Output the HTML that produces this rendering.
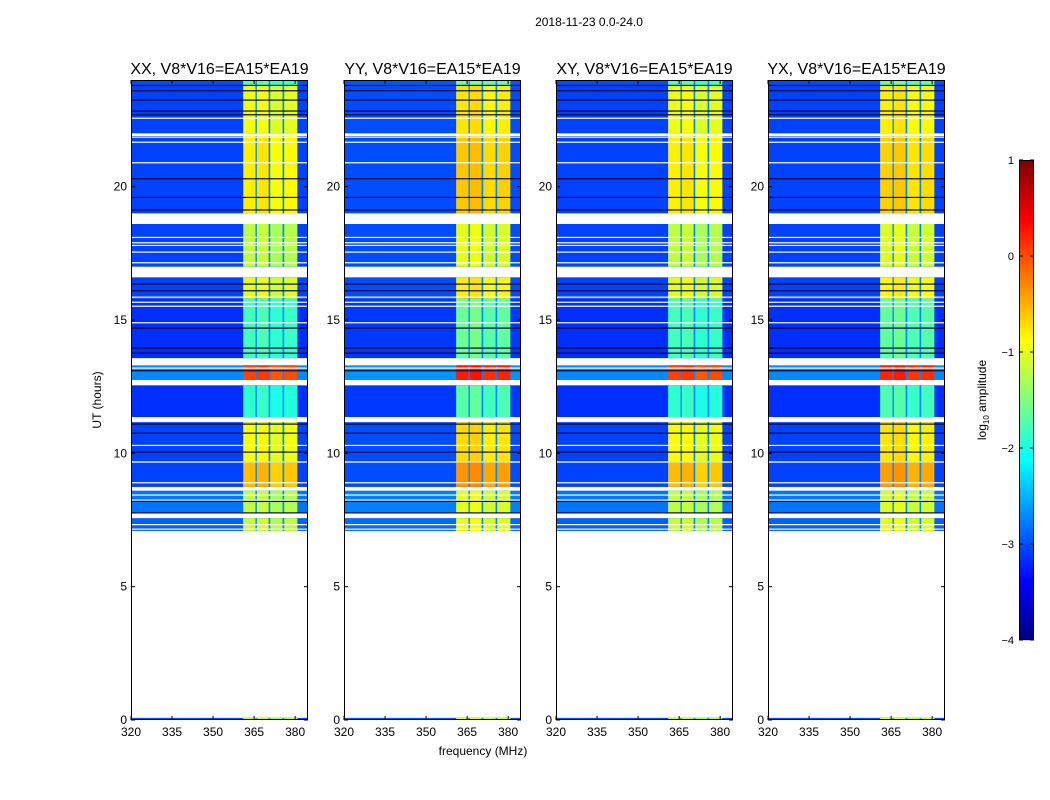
<!DOCTYPE html>
<html><head><meta charset="utf-8"><style>
body{margin:0;background:#fff;}
svg{display:block;font-family:"Liberation Sans",sans-serif;}
</style></head><body>
<svg id="fig" width="1050" height="800">
<text x="589" y="26" font-size="12" text-anchor="middle">2018-11-23 0.0-24.0</text>
<text x="483" y="755" font-size="12" text-anchor="middle">frequency (MHz)</text>
<text transform="translate(101,400) rotate(-90)" font-size="12" text-anchor="middle">UT (hours)</text>
<g id="panels"></g>
<g id="cbar"></g>
<text transform="translate(986,400) rotate(-90)" font-size="12" text-anchor="middle">log<tspan font-size="8" dy="3">10</tspan><tspan dy="-3"> amplitude</tspan></text>
</svg>
<script>
// ---- data ----
const panelTitles = ["XX, V8*V16=EA15*EA19","YY, V8*V16=EA15*EA19","XY, V8*V16=EA15*EA19","YX, V8*V16=EA15*EA19"];
const xTicks = [320,335,350,365,380];
const yTicks = [0,5,10,15,20];
// time segments with data: start hour, end hour
const segStart = [23.8,22.0,19.0,17.0,15.8,13.57,12.75,11.36,9.7,8.74,7.76,7.09,0];
const segEnd   = [24.0,23.8,21.9,18.6,16.6,15.8,13.3,12.55,11.17,9.65,8.6,7.57,0.08];
// band log amplitude per segment
const segBand  = [-1.8,-1.0,-0.85,-1.25,-1.05,-1.85,0.0,-1.95,-0.95,-0.6,-1.25,-1.2,-1.3];
// background log amplitude per segment
const segBg    = [-3.0,-3.05,-3.05,-3.05,-3.05,-3.15,-2.7,-3.15,-3.05,-3.05,-2.8,-2.9,-3.0];
// band sub-columns (MHz)
const colStart = [361,366,370.9,376];
const colEnd   = [365.5,370.3,375.4,380.8];
const colOffset= [0.05,0.1,-0.05,0.0];
const panelBandOffset = [0,0.2,0.0,0.15];
const panelBgOffset = [0,0.05,0,0];
// thin horizontal flag lines (hours)
const whiteLines = [22.57,21.86,21.67,20.9,18.1,17.9,17.8,17.55,17.15,15.86,15.67,15.52,14.9,13.2,10.3,8.9,8.44,8.25,7.33,7.16];
const darkLines = [23.8,23.6,23.25,22.84,22.7,20.3,19.6,19.13,16.35,16.1,14.7,13.95,13.76,13.1,11.1,10.76,10.05,8.2,7.77];
const cbTicks = [1,0,-1,-2,-3,-4];

// ---- layout ----
const panelX = [131,344,556,768];
const pw = 177, yTop = 80, yBot = 720;
const fMin = 320, fMax = 384.7, tMax = 24;
const NS = "http://www.w3.org/2000/svg";
function jet(v){ // v in [-4,1]
  let t = Math.max(0,Math.min(1,(v+4)/5));
  const c = x=>Math.round(255*Math.max(0,Math.min(1,x)));
  return `rgb(${c(1.5-Math.abs(4*t-3))},${c(1.5-Math.abs(4*t-2))},${c(1.5-Math.abs(4*t-1))})`;
}
function mk(tag, attrs, parent){const e=document.createElementNS(NS,tag);for(const k in attrs)e.setAttribute(k,attrs[k]);parent.appendChild(e);return e;}
const panels = document.getElementById('panels');
panelX.forEach((x0,p)=>{
  const g = mk('g',{},panels);
  
  
  const xs = f => x0 + (f-fMin)/(fMax-fMin)*pw;
  const ys = h => yBot - h/tMax*(yBot-yTop);
  segStart.forEach((s,i)=>{
    const y1 = ys(segEnd[i]), y2 = ys(s);
    const r = mk('rect',{x:x0,y:y1,width:pw,height:Math.max(1,y2-y1),fill:jet(segBg[i]+panelBgOffset[p])},g);
    
    
    const bb = mk('rect',{x:xs(colStart[0]),y:y1,width:xs(colEnd[3])-xs(colStart[0]),height:Math.max(1,y2-y1),fill:jet(-2.7)},g);
    
    
    colStart.forEach((cs,j)=>{
      const c = mk('rect',{x:xs(cs),y:y1,width:xs(colEnd[j])-xs(cs),height:Math.max(1,y2-y1),fill:jet(segBand[i]+colOffset[j]+panelBandOffset[p])},g);
      
      
    });
  });
  whiteLines.forEach(h=>{
    const l = mk('rect',{x:x0,y:ys(h)-0.5,width:pw,height:1.2,fill:'#fff'},g);
    
    
  });
  darkLines.forEach(h=>{
    const l = mk('rect',{x:x0,y:ys(h)-0.5,width:pw,height:1.2,fill:'#0a0a30'},g);
    
    
  });
  const fr = mk('rect',{x:x0+0.5,y:yTop+0.5,width:pw-1,height:yBot-yTop-1,fill:'none',stroke:'#000','stroke-width':1},g);
  
  
  const tt = mk('text',{x:x0+pw/2,y:74,'font-size':16,'text-anchor':'middle'},g);
  tt.textContent = panelTitles[p];
  
  
  xTicks.forEach(f=>{
    const t = mk('text',{x:xs(f),y:736,'font-size':12,'text-anchor':'middle'},g);
    t.textContent = f;
    
    
    mk('line',{x1:xs(f),x2:xs(f),y1:yBot,y2:yBot-4,stroke:'#000'},g);
    mk('line',{x1:xs(f),x2:xs(f),y1:yTop,y2:yTop+4,stroke:'#000'},g);
  });
  yTicks.forEach(h=>{
    const t = mk('text',{x:x0-4,y:ys(h)+4,'font-size':12,'text-anchor':'end'},g);
    t.textContent = h;
    
    
    mk('line',{x1:x0,x2:x0+4,y1:ys(h),y2:ys(h),stroke:'#000'},g);
    mk('line',{x1:x0+pw,x2:x0+pw-4,y1:ys(h),y2:ys(h),stroke:'#000'},g);
  });
});
// colorbar
const cb = document.getElementById('cbar');
const cbX=1019, cbW=15, cbTop=160, cbBot=640;
for(let y=cbTop;y<cbBot;y+=2){
  const v = 1 - (y-cbTop)/(cbBot-cbTop)*5;
  mk('rect',{x:cbX,y:y,width:cbW,height:2.2,fill:jet(v)},cb);
}
mk('rect',{x:cbX+0.5,y:cbTop+0.5,width:cbW-1,height:cbBot-cbTop-1,fill:'none',stroke:'#000'},cb);
cbTicks.forEach(v=>{
  const y = cbTop + (1-v)/5*(cbBot-cbTop);
  const t = mk('text',{x:cbX-5,y:y+4,'font-size':11,'text-anchor':'end'},cb);
  t.textContent = v<0 ? '\u2212'+(-v) : v;
  
  
  mk('line',{x1:cbX,x2:cbX+4,y1:y,y2:y,stroke:'#000'},cb);
  mk('line',{x1:cbX+cbW,x2:cbX+cbW-4,y1:y,y2:y,stroke:'#000'},cb);
});
</script>
</body></html>
